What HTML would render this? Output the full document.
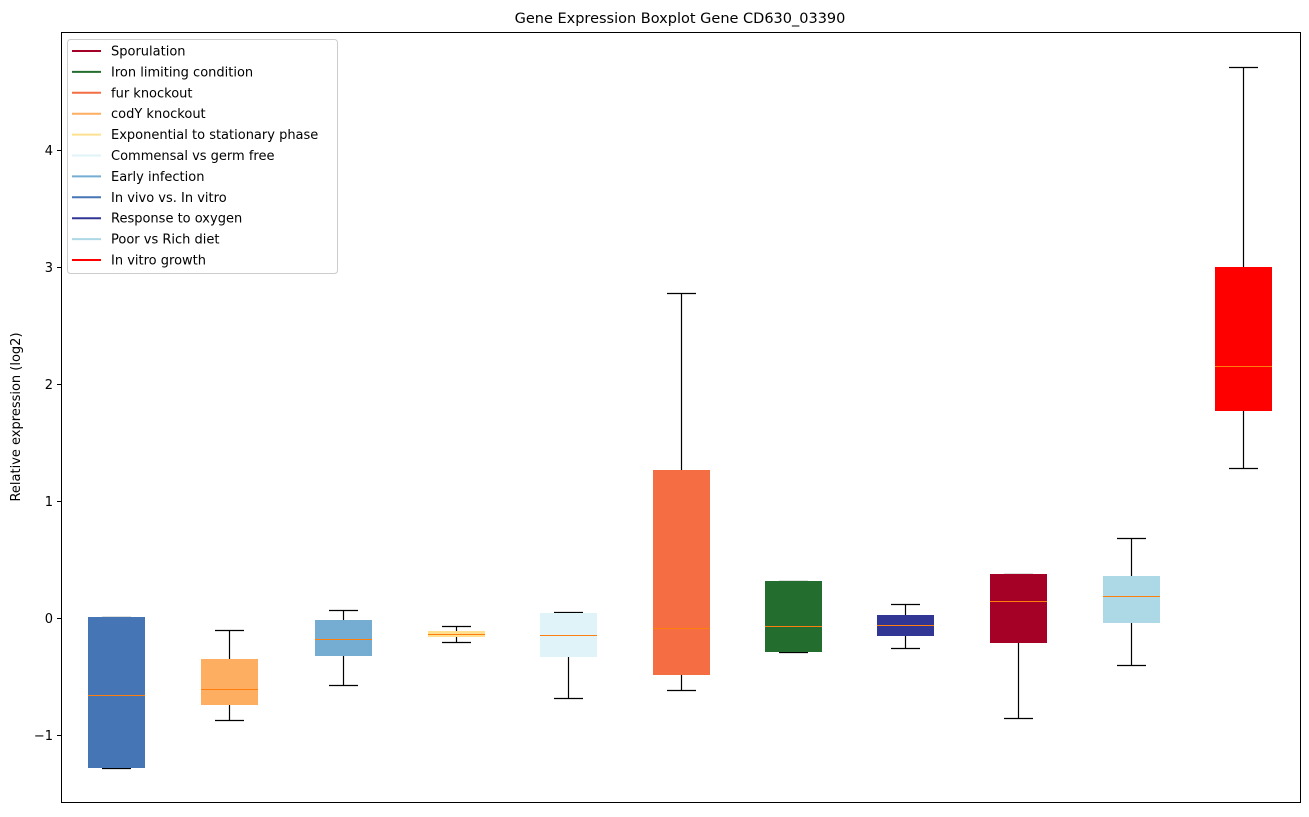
<!DOCTYPE html>
<html><head><meta charset="utf-8"><style>
body{margin:0;background:#fff;}
svg text{font-family:"DejaVu Sans","Liberation Sans",sans-serif;fill:#000;}
</style></head><body>
<svg id="s" width="1309" height="812" xmlns="http://www.w3.org/2000/svg">
<rect width="1309" height="812" fill="#fff"/>
<text x="680" y="23" font-size="14.5" text-anchor="middle">Gene Expression Boxplot Gene CD630_03390</text>
<text transform="translate(20,417) rotate(-90)" font-size="13" text-anchor="middle">Relative expression (log2)</text>
<g id="g"></g>
<rect x="61.5" y="32.5" width="1239" height="770" fill="none" stroke="#000" stroke-width="1"/>
</svg>
<script>
var g=document.getElementById('g'),h='';
var ticks=[[4,150,'4'],[3,267,'3'],[2,384,'2'],[1,501,'1'],[0,618,'0'],[-1,735,'\u22121']];
ticks.forEach(function(t){h+='<line x1="57" x2="61" y1="'+(t[1]+.5)+'" y2="'+(t[1]+.5)+'" stroke="#000"/><text x="53" y="'+(t[1]+5)+'" font-size="13" text-anchor="end">'+t[2]+'</text>';});
var b=[[116,'#4575b4',617,768,695,617,768],[229,'#fdae61',659,705,689,630,720],[343,'#74add1',620,656,639,610,685],[456,'#fee090',631,637,634,626,642],[568,'#e0f3f8',613,657,635,612,698],[681,'#f46d43',470,675,628,293,690],[793,'#236e2e',581,652,626,581,652],[905,'#313695',615,636,625,604,648],[1018,'#a50026',574,643,601,574,718],[1131,'#add8e6',576,623,596,538,665],[1243,'#ff0000',267,411,366,67,468]];
b.forEach(function(d){var x=d[0]+.5;
h+='<line x1="'+x+'" x2="'+x+'" y1="'+d[5]+'" y2="'+d[2]+'" stroke="#000" stroke-width="1.2"/><line x1="'+x+'" x2="'+x+'" y1="'+d[3]+'" y2="'+d[6]+'" stroke="#000" stroke-width="1.2"/>';
h+='<line x1="'+(x-14.5)+'" x2="'+(x+14.5)+'" y1="'+(d[5]+.5)+'" y2="'+(d[5]+.5)+'" stroke="#000" stroke-width="1.2"/><line x1="'+(x-14.5)+'" x2="'+(x+14.5)+'" y1="'+(d[6]+.5)+'" y2="'+(d[6]+.5)+'" stroke="#000" stroke-width="1.2"/>';
h+='<rect x="'+(d[0]-28)+'" y="'+d[2]+'" width="57" height="'+(d[3]-d[2])+'" fill="'+d[1]+'"/>';
h+='<line x1="'+(d[0]-28)+'" x2="'+(d[0]+29)+'" y1="'+(d[4]+.5)+'" y2="'+(d[4]+.5)+'" stroke="#ff7f0e"/>';});
h+='<rect x="67.5" y="39.5" width="270" height="234" rx="3" fill="#fff" fill-opacity="0.8" stroke="#ccc"/>';
var L=[['Sporulation','#a50026'],['Iron limiting condition','#236e2e'],['fur knockout','#f46d43'],['codY knockout','#fdae61'],['Exponential to stationary phase','#fee090'],['Commensal vs germ free','#e0f3f8'],['Early infection','#74add1'],['In vivo vs. In vitro','#4575b4'],['Response to oxygen','#313695'],['Poor vs Rich diet','#add8e6'],['In vitro growth','#ff0000']];
L.forEach(function(l,i){var y=51+i*20.9;h+='<line x1="72" x2="101" y1="'+y+'" y2="'+y+'" stroke="'+l[1]+'" stroke-width="2"/><text x="111" y="'+(y+4.5)+'" font-size="13">'+l[0]+'</text>';});
g.innerHTML=h;
</script>
</body></html>
